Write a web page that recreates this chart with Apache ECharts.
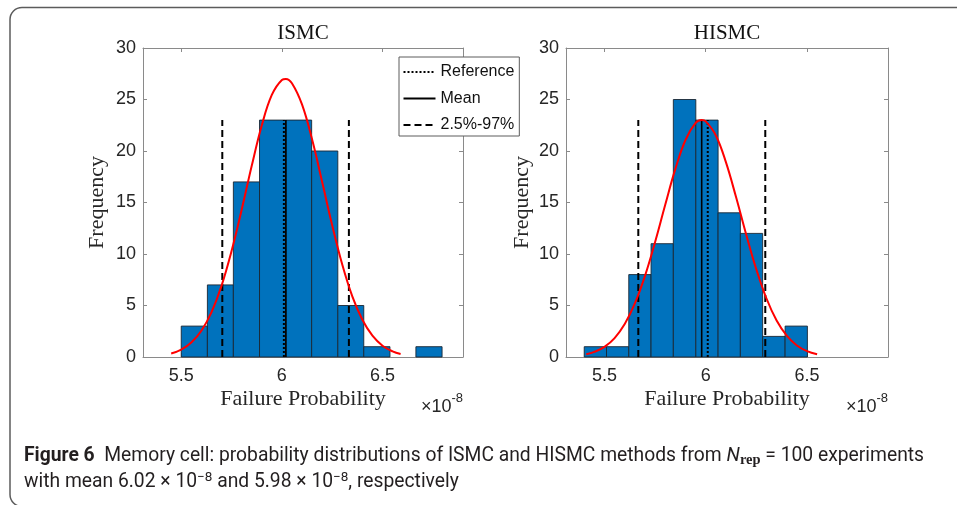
<!DOCTYPE html>
<html><head><meta charset="utf-8">
<script src="https://cdn.jsdelivr.net/npm/echarts@6/dist/echarts.min.js"></script>
<style>html,body{margin:0;padding:0;background:#fff}#c{width:957px;height:505px}</style>
</head><body><div id="c"></div>
<script>
// ---- data ----
const xTicks = [5.5, 6, 6.5];
const yMin = 0, yMax = 30, yStep = 5;
const xMin = 5.31, xMax = 6.9;

const ismcBinEdges = [5.500, 5.630, 5.759, 5.889, 6.019, 6.148, 6.278, 6.407, 6.537, 6.666, 6.796];
const ismcCounts   = [3, 7, 17, 23, 23, 20, 5, 1, 0, 1];
const hismcBinEdges = [5.400, 5.510, 5.620, 5.730, 5.840, 5.951, 6.061, 6.171, 6.281, 6.392, 6.502];
const hismcCounts   = [1, 1, 8, 11, 25, 23, 14, 12, 2, 3];

const ismcReference = 6.01, ismcMean = 6.02, ismcLow = 5.704, ismcHigh = 6.333;
const hismcReference = 6.01, hismcMean = 5.98, hismcLow = 5.667, hismcHigh = 6.294;
const markerHeight = 23;

const ismcFitX = [5.45,5.50,5.55,5.60,5.65,5.70,5.75,5.80,5.85,5.90,5.95,6.00,6.02,6.05,6.10,6.15,6.20,6.25,6.30,6.35,6.40,6.45,6.50,6.55,6.59];
const ismcFitY = [0.34,0.71,1.40,2.55,4.34,6.91,10.29,14.28,18.54,22.47,25.44,26.90,27.00,26.58,24.52,21.13,17.01,12.79,8.98,5.89,3.61,2.07,1.10,0.55,0.30];
const hismcFitX = [5.41,5.45,5.50,5.55,5.60,5.65,5.70,5.75,5.80,5.85,5.90,5.95,5.98,6.00,6.05,6.10,6.15,6.20,6.25,6.30,6.35,6.40,6.45,6.50,6.55];
const hismcFitY = [0.27,0.50,0.99,1.84,3.20,5.20,7.88,11.17,14.78,18.26,21.07,22.72,23.00,22.87,21.51,18.89,15.50,11.87,8.50,5.68,3.54,2.07,1.12,0.57,0.27];

const panelTitles = ['ISMC', 'HISMC'];
const xName = 'Failure Probability';
const yName = 'Frequency';
const legendNames = ['Reference', 'Mean', '2.5%-97%'];

// ---- styling ----
const axisColor = '#8a8a8a';
const sans = '"Liberation Sans", Arial, sans-serif';
const serif = '"Liberation Serif", "Times New Roman", serif';
const grids = [
  {left: 143, top: 48, width: 320, height: 309},
  {left: 566, top: 48, width: 322, height: 309}
];

function xAx(g, pos) {
  return {
    type: 'value', gridIndex: g, position: pos, min: xMin, max: xMax,
    axisLine: {show: true, onZero: false, lineStyle: {color: axisColor, width: 1}},
    axisTick: {show: true, inside: true, length: 4, customValues: xTicks, lineStyle: {color: axisColor}},
    axisLabel: {show: pos === 'bottom', customValues: xTicks, margin: 10, fontFamily: sans, fontSize: 18, color: '#262626'},
    splitLine: {show: false}
  };
}
function yAx(g, pos) {
  return {
    type: 'value', gridIndex: g, position: pos, min: yMin, max: yMax, interval: yStep,
    axisLine: {show: true, onZero: false, lineStyle: {color: axisColor, width: 1}},
    axisTick: {show: true, inside: true, length: 4, lineStyle: {color: axisColor}},
    axisLabel: {show: pos === 'left', margin: 7, fontFamily: sans, fontSize: 18, color: '#262626'},
    splitLine: {show: false}
  };
}

function histSeries(edges, counts, xi, yi) {
  const data = counts.map((c, i) => [edges[i], edges[i + 1], c]);
  return {
    type: 'custom', xAxisIndex: xi, yAxisIndex: yi, z: 2, silent: true,
    encode: {x: [0, 1], y: 2},
    data: data,
    renderItem: function (params, api) {
      const c = api.value(2);
      if (!(c > 0)) return null;
      const p0 = api.coord([api.value(0), 0]);
      const p1 = api.coord([api.value(1), c]);
      return {
        type: 'rect',
        shape: {x: p0[0], y: p1[1], width: p1[0] - p0[0], height: p0[1] - p1[1]},
        style: {fill: '#0072BD', stroke: '#1b2733', lineWidth: 0.9}
      };
    }
  };
}
function vline(name, x, xi, yi, type, width) {
  return {
    type: 'line', name: name, xAxisIndex: xi, yAxisIndex: yi, z: 3, silent: true,
    symbol: 'none', animation: false,
    data: [[x, 0], [x, markerHeight]],
    itemStyle: {color: '#000', opacity: 0},
    lineStyle: {color: '#000', width: width, type: type, opacity: 1}
  };
}
function fitSeries(xs, ys, xi, yi) {
  return {
    type: 'line', name: 'fit', xAxisIndex: xi, yAxisIndex: yi, z: 4, silent: true,
    symbol: 'none', smooth: 0.4, animation: false,
    data: xs.map((x, i) => [x, ys[i]]),
    lineStyle: {color: '#ff0000', width: 2}
  };
}

const dotted = [2, 2], dashed = [7, 4];

const series = [
  histSeries(ismcBinEdges, ismcCounts, 0, 0),
  vline('Reference', ismcReference, 0, 0, dotted, 2),
  vline('Mean', ismcMean, 0, 0, 'solid', 1.6),
  vline('2.5%-97%', ismcLow, 0, 0, dashed, 2),
  vline('2.5%-97%', ismcHigh, 0, 0, dashed, 2),
  fitSeries(ismcFitX, ismcFitY, 0, 0),
  histSeries(hismcBinEdges, hismcCounts, 2, 2),
  vline('Reference', hismcReference, 2, 2, dotted, 2),
  vline('Mean', hismcMean, 2, 2, 'solid', 1.6),
  vline('2.5%-97%', hismcLow, 2, 2, dashed, 2),
  vline('2.5%-97%', hismcHigh, 2, 2, dashed, 2),
  fitSeries(hismcFitX, hismcFitY, 2, 2)
];

// caption font fitting
const capFamily = 'Roboto, "Noto Sans", sans-serif';
const capLine1Plain = 'Figure 6  Memory cell: probability distributions of ISMC and HISMC methods from Nrep = 100 experiments';
function fitSize(str, family, target) {
  const ctx = document.createElement('canvas').getContext('2d');
  ctx.font = '100px ' + family;
  return 100 * target / ctx.measureText(str).width;
}
const capSize = Math.round(fitSize(capLine1Plain, capFamily, 906) * 10) / 10;

const graphic = [
  {type: 'rect', z: 0, shape: {x: 10, y: 7.5, width: 1000, height: 499, r: 12},
   style: {fill: 'none', stroke: '#5c5c5c', lineWidth: 1.5}, silent: true}
];
grids.forEach((g, i) => {
  const cx = g.left + g.width / 2;
  graphic.push({type: 'text', x: cx, y: 33, style: {text: panelTitles[i], font: '21px ' + serif, fill: '#111', align: 'center', verticalAlign: 'middle'}});
  graphic.push({type: 'text', x: cx, y: 399, style: {text: xName, font: '22px ' + serif, fill: '#262626', align: 'center', verticalAlign: 'middle'}});
  graphic.push({type: 'text', x: g.left - (i === 0 ? 46 : 44), y: g.top + g.height / 2, rotation: Math.PI / 2,
    style: {text: yName, font: '22px ' + serif, fill: '#262626', align: 'center', verticalAlign: 'middle'}});
  graphic.push({type: 'text', x: g.left + g.width, y: 404, style: {
    text: '{a|×10}{s|-8}', align: 'right', verticalAlign: 'middle', fill: '#262626',
    rich: {a: {fontFamily: sans, fontSize: 18, lineHeight: 24, verticalAlign: 'bottom', fill: '#262626'},
           s: {fontFamily: sans, fontSize: 13, lineHeight: 12, verticalAlign: 'top', fill: '#262626'}}}});
});
graphic.push({type: 'text', x: 24, y: 456, style: {
  text: '{b|Figure 6}  Memory cell: probability distributions of ISMC and HISMC methods from {i|N}{sub|rep} = 100 experiments',
  fontFamily: capFamily, fontSize: capSize, lineHeight: 22, fill: '#231f20', align: 'left', verticalAlign: 'middle',
  rich: {
    b: {fontFamily: capFamily, fontSize: capSize, fontWeight: 'bold', lineHeight: 22, fill: '#231f20'},
    i: {fontFamily: capFamily, fontSize: capSize, fontStyle: 'italic', lineHeight: 22, fill: '#231f20'},
    sub: {fontFamily: serif, fontSize: capSize * 0.75, fontWeight: 'bold', lineHeight: 13, verticalAlign: 'bottom', fill: '#231f20'}
  }}});
graphic.push({type: 'text', x: 24, y: 482, style: {
  text: 'with mean 6.02 × 10{sup|−8} and 5.98 × 10{sup|−8}, respectively',
  fontFamily: capFamily, fontSize: capSize, lineHeight: 22, fill: '#231f20', align: 'left', verticalAlign: 'middle',
  rich: {sup: {fontFamily: capFamily, fontSize: capSize * 0.7, lineHeight: 12, verticalAlign: 'top', fill: '#231f20'}}}});

const chart = echarts.init(document.getElementById('c'), null, {renderer: 'canvas'});
chart.setOption({
  animation: false,
  backgroundColor: '#fff',
  grid: grids.map(g => Object.assign({outerBoundsMode: 'none', containLabel: false}, g)),
  xAxis: [xAx(0, 'bottom'), xAx(0, 'top'), xAx(1, 'bottom'), xAx(1, 'top')],
  yAxis: [yAx(0, 'left'), yAx(0, 'right'), yAx(1, 'left'), yAx(1, 'right')],
  legend: {
    data: legendNames, orient: 'vertical', left: 399, top: 57, z: 10,
    itemWidth: 32, itemHeight: 16, itemGap: 10.5, padding: [7, 5, 3, 3.5],
    backgroundColor: '#fff', borderColor: '#5c5c5c', borderWidth: 1, borderRadius: 0,
    selectedMode: false,
    itemStyle: {opacity: 0, color: 'rgba(0,0,0,0)', borderWidth: 0},
    lineStyle: {opacity: 1},
    textStyle: {fontFamily: sans, fontSize: 16, color: '#111', lineHeight: 16}
  },
  graphic: graphic,
  series: series
});
</script>
</body></html>
